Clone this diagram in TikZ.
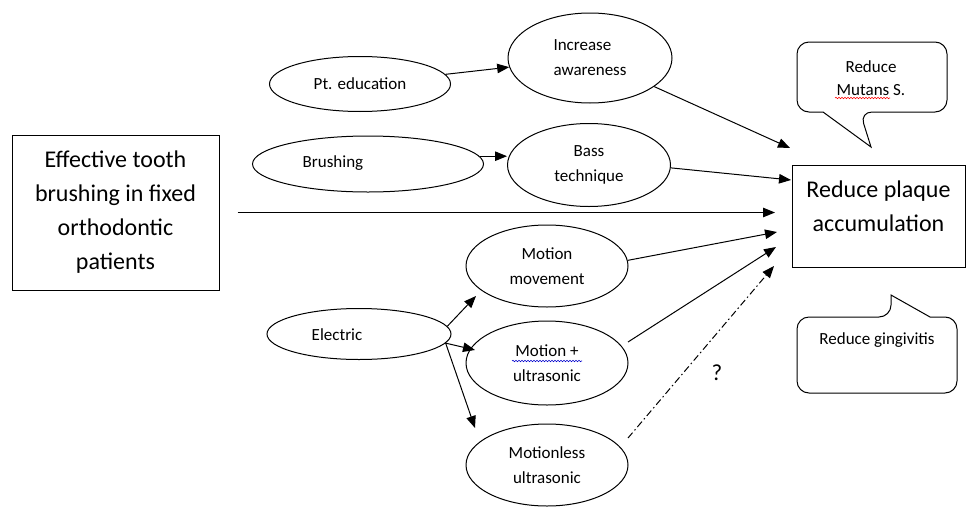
\documentclass[tikz,border=0pt]{standalone}
\usepackage{fontspec}
\setmainfont{Carlito}
\usetikzlibrary{shapes.geometric,arrows.meta,decorations.pathmorphing}
\begin{document}
\begin{tikzpicture}[x=1pt,y=-1pt,
 ell/.style={draw,ellipse,line width=1pt,inner sep=0pt,align=center,font=\fontsize{17}{25}\selectfont},
 box/.style={draw,rectangle,line width=1pt,inner sep=0pt},
 arr/.style={line width=1pt,-{Triangle[length=12pt,width=9.5pt]}},
 big/.style={align=center,font=\fontsize{24}{34}\selectfont},
 small/.style={align=center,font=\fontsize{17}{23}\selectfont},
 squig/.style={decorate,decoration={snake,amplitude=0.7pt,segment length=3pt},line width=0.6pt}]
\useasboundingbox (0,0) rectangle (968,506);
% boxes
\node[box,big,minimum width=207pt,minimum height=155pt] (eff) at (115.5,212.5) {Effective tooth\\brushing in fixed\\orthodontic\\patients};
\node[box,minimum width=173pt,minimum height=102pt] (plaque) at (878.5,216) {};
\node[big] (plaquetxt) at (878.5,206) {Reduce plaque\\accumulation};
% ellipses
\node[ell,minimum width=181pt,minimum height=55pt] (pted) at (360,84) {Pt. education};
\node[ell,minimum width=164pt,minimum height=90pt,align=left] (aware) at (590,58) {Increase\\awareness};
\node[ell,minimum width=231pt,minimum height=56pt] (brush) at (368,164) {};
\node[font=\fontsize{17}{25}\selectfont] (brushtxt) at (333,163) {Brushing};
\node[ell,minimum width=163pt,minimum height=83pt] (bass) at (589,165) {Bass\\technique};
\node[ell,minimum width=162pt,minimum height=82pt] (mm) at (547,266) {Motion\\movement};
\node[ell,minimum width=184pt,minimum height=51pt] (elec) at (359,334) {};
\node[font=\fontsize{17}{25}\selectfont] (electxt) at (337,335) {Electric};
\node[ell,minimum width=162pt,minimum height=84pt] (mu) at (547,363) {Motion +\\ultrasonic};
\node[ell,minimum width=162pt,minimum height=82pt] (ml) at (547,465) {Motionless\\ultrasonic};
% targets
\coordinate (t1) at (790,148);
\coordinate (t2) at (775,212.5);
\coordinate (t3) at (791,180);
\coordinate (t4) at (777,232);
\coordinate (t5) at (776,247);
\coordinate (t6) at (774,266);
% connectors
\draw[arr] (pted) -- (aware);
\draw[arr] (aware.-24) -- (t1);
\draw[arr] (brush.4) -- (brush.4 -| bass.west);
\draw[arr] ([xshift=18pt]eff.east) -- (t2);
\draw[arr] (bass.-2) -- (t3);
\draw[arr] (mm.4) -- (t4);
\draw[arr] ([shift={(81,-21)}]mu.center) -- (t5);
\draw[arr,dash pattern=on 7pt off 3pt on 1.5pt off 3pt] ([shift={(81,-27)}]ml.center) -- (t6);
\draw[arr] (elec.5) -- ([shift={(-71,30)}]mm.center);
\draw[arr] (elec.-6) -- ([shift={(-72,-13)}]mu.center);
\draw[arr] (elec.-6) -- ([shift={(-72,-37)}]ml.center);
% callouts
\draw[line width=1pt] (871,147) -- (823,112) [rounded corners=12pt] -- (797,112) -- (797,42) -- (947,42) -- (947,112) -- (860,112) [sharp corners] -- cycle;
\draw[line width=1pt] (891,295) -- (930,317) [rounded corners=12pt] -- (957,317) -- (957,393) -- (797,393) -- (797,317) -- (891,317) [sharp corners] -- cycle;
\node[small] (mutans) at (871,78.5) {Reduce\\Mutans S.};
\node[small] (ging) at (877,340) {Reduce gingivitis};
\node[font=\fontsize{23}{25}\selectfont] (q) at (717,373) {?};
% spell-check underlines
\draw[red,squig] (835,98) -- (890,98);
\draw[blue!80!black,squig] (512,361) -- (582,361);
\end{tikzpicture}
\end{document}
